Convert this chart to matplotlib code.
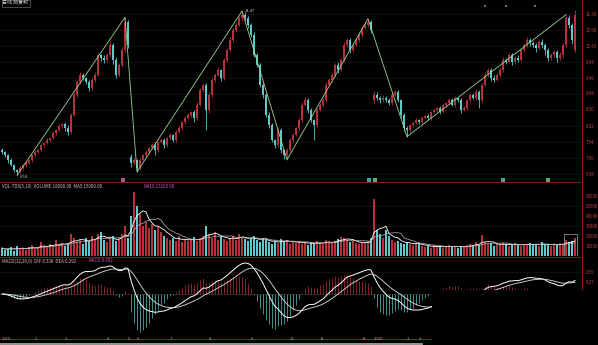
import numpy as np
import pandas as pd
import matplotlib
matplotlib.use('Agg')
import matplotlib.pyplot as plt
from matplotlib.lines import Line2D
from matplotlib.patches import Rectangle

plt.rcParams['font.family'] = ['Noto Sans CJK SC', 'DejaVu Sans']

# daily closes
closes = [7.24, 7.15, 7.00, 6.85, 6.70, 6.64, 6.76, 6.85, 6.91, 7.00,
          7.15, 7.24, 7.30, 7.45, 7.51, 7.60, 7.66, 7.81, 7.90, 8.02,
          8.08, 7.96, 7.84, 8.35, 8.95, 9.34, 9.55, 9.46, 9.34, 9.16,
          9.40, 9.55, 10.15, 10.06, 10.00, 10.15, 10.45, 10.00, 9.55, 9.85,
          10.30, 11.14, 10.45, 6.90, 7.00, 6.76, 7.00, 7.15, 7.24, 7.36,
          7.45, 7.30, 7.54, 7.60, 7.45, 7.66, 7.75, 7.60, 7.84, 7.96,
          8.14, 8.26, 8.35, 8.44, 8.26, 8.65, 9.10, 9.25, 8.50, 8.95,
          9.40, 9.55, 9.70, 9.46, 10.00, 10.30, 10.60, 10.90, 11.05, 11.26,
          11.35, 11.26, 11.05, 10.75, 10.15, 9.85, 9.25, 8.95, 8.35, 8.05,
          7.60, 7.45, 7.90, 7.30, 7.15, 7.30, 7.60, 7.75, 7.96, 8.20,
          8.65, 8.80, 8.50, 8.20, 8.05, 8.50, 8.65, 8.80, 9.25, 9.40,
          9.55, 9.85, 9.70, 10.00, 10.45, 10.60, 10.30, 10.45, 10.60, 10.75,
          10.96, 11.05, 11.14, 10.90, 8.95, 8.86, 8.80, 8.86, 8.80, 8.71,
          8.95, 9.04, 8.80, 8.35, 7.96, 7.90, 8.05, 8.11, 8.20, 8.14,
          8.26, 8.32, 8.26, 8.44, 8.50, 8.56, 8.44, 8.65, 8.71, 8.80,
          8.65, 8.86, 8.80, 8.50, 8.56, 8.80, 8.95, 8.86, 9.04, 8.80,
          9.25, 9.55, 9.70, 9.46, 9.40, 9.55, 9.70, 10.00, 9.94, 10.15,
          9.94, 10.06, 10.00, 10.30, 10.45, 10.60, 10.51, 10.45, 10.36, 10.54,
          10.45, 10.30, 10.06, 10.15, 10.24, 10.06, 10.15, 10.45, 11.26, 11.05,
          10.60, 11.35]
# opens differ from previous close only on gap days
gap_opens = {0: 7.30, 43: 7.10, 124: 8.80, 191: 10.30}
# upper / lower shadows in cents
hi_shadow = [5, 4, 3, 6, 2, 4, 5, 3, 6, 4,
             3, 5, 4, 6, 3, 5, 4, 7, 3, 5,
             4, 6, 8, 5, 10, 6, 8, 5, 4, 6,
             5, 8, 6, 4, 10, 7, 12, 5, 8, 6,
             9, 14, 6, 8, 5, 4, 6, 3, 5, 4,
             6, 8, 4, 5, 7, 3, 6, 4, 5, 6,
             4, 7, 5, 3, 6, 8, 5, 7, 6, 8,
             5, 6, 9, 4, 7, 5, 8, 6, 10, 7,
             12, 8, 6, 5, 9, 7, 6, 10, 5, 8,
             6, 4, 9, 5, 4, 6, 5, 7, 4, 6,
             8, 10, 6, 5, 4, 7, 6, 5, 8, 6,
             5, 7, 9, 6, 8, 5, 7, 6, 5, 8,
             6, 9, 10, 7, 12, 8, 6, 10, 5, 7,
             8, 6, 5, 4, 6, 5, 4, 6, 5, 4,
             5, 4, 6, 3, 5, 4, 6, 5, 4, 7,
             5, 6, 4, 7, 5, 4, 6, 5, 8, 6,
             7, 10, 6, 5, 8, 5, 6, 9, 5, 7,
             6, 5, 8, 6, 5, 9, 6, 7, 5, 6,
             8, 5, 6, 7, 5, 6, 8, 5, 10, 9,
             6, 15]
lo_shadow = [6, 5, 8, 4, 6, 10, 4, 5, 6, 3,
             5, 4, 6, 3, 5, 4, 6, 3, 5, 4,
             6, 8, 10, 5, 4, 6, 5, 7, 6, 9,
             5, 6, 4, 8, 10, 6, 5, 12, 9, 6,
             5, 6, 8, 10, 6, 12, 5, 4, 6, 5,
             4, 15, 5, 4, 8, 5, 4, 7, 5, 4,
             6, 5, 4, 6, 12, 5, 4, 6, 60, 8,
             5, 6, 4, 10, 5, 6, 4, 5, 6, 4,
             6, 5, 8, 6, 7, 5, 6, 8, 5, 9,
             7, 10, 6, 8, 12, 14, 6, 5, 4, 6,
             5, 4, 8, 6, 45, 5, 4, 6, 5, 4,
             6, 5, 8, 4, 5, 6, 10, 5, 4, 6,
             5, 4, 6, 8, 10, 6, 8, 5, 7, 6,
             5, 4, 6, 8, 10, 20, 6, 5, 4, 6,
             5, 4, 6, 5, 4, 6, 5, 4, 6, 5,
             4, 6, 5, 8, 4, 6, 5, 4, 6, 25,
             5, 4, 6, 8, 5, 4, 6, 5, 7, 4,
             10, 5, 6, 4, 5, 6, 8, 5, 12, 6,
             8, 15, 10, 6, 5, 12, 6, 8, 5, 10,
             12, 6]
# volume, thousand lots
volume = [8, 6, 7, 9, 5, 10, 7, 8, 6, 9,
          11, 7, 8, 14, 10, 8, 12, 9, 16, 11,
          13, 10, 12, 22, 18, 14, 16, 12, 18, 15,
          20, 17, 22, 24, 16, 14, 18, 20, 15, 17,
          22, 30, 18, 40, 64, 50, 42, 30, 34, 28,
          32, 26, 30, 24, 20, 18, 16, 18, 15, 20,
          14, 17, 15, 16, 19, 15, 18, 20, 30, 22,
          18, 24, 16, 20, 17, 15, 18, 20, 16, 22,
          19, 17, 15, 18, 20, 16, 14, 18, 16, 14,
          12, 15, 13, 17, 15, 16, 12, 14, 13, 15,
          12, 14, 11, 13, 12, 15, 13, 12, 16, 14,
          13, 15, 17, 19, 18, 16, 14, 15, 13, 12,
          14, 13, 15, 18, 57, 26, 22, 18, 26, 20,
          16, 14, 15, 13, 12, 14, 12, 11, 13, 12,
          10, 9, 10, 8, 11, 9, 10, 8, 9, 11,
          10, 9, 8, 10, 9, 11, 12, 10, 14, 11,
          21, 14, 12, 13, 10, 12, 11, 13, 12, 10,
          11, 13, 12, 10, 11, 12, 13, 11, 12, 10,
          14, 12, 11, 10, 12, 11, 13, 12, 16, 14,
          15, 18]

price_ticks = [11.38, 10.90, 10.42, 9.94, 9.46, 8.98, 8.50, 8.02, 7.54, 7.06, 6.58]
vol_ticks = [10, 20, 30, 40, 50, 60]
date_pos = [0, 11, 21, 35, 42, 45, 56, 69, 83, 96, 106, 120, 124, 135, 139]
date_labels = ['2019', '2', '3', '4', '5', '6', '7', '8', '9', '10', '11', '12', '2020', '2', '3']
zz_pivots = [5, 41, 45, 80, 95, 122, 135, 188]

RED = '#b8303a'
CYAN = '#5ccaca'
AXRED = '#8a1c1c'
GRID = '#3a2a2a'

close = np.array(closes)
n = len(close)
x = np.arange(n)
opens = np.r_[close[0], close[:-1]]
for k, v in gap_opens.items():
    opens[k] = v
high = np.maximum(opens, close) + np.array(hi_shadow) / 100
low = np.minimum(opens, close) - np.array(lo_shadow) / 100
up = close >= opens
cols = np.where(up, RED, CYAN)

W, H = 598, 345
fig = plt.figure(figsize=(W / 100, H / 100), dpi=100, facecolor='black')


def px_axes(x0, y0, x1, y1):
    ax = fig.add_axes([x0 / W, 1 - y1 / H, (x1 - x0) / W, (y1 - y0) / H])
    ax.set_axis_off()
    ax.set_xlim(-2 / 3, 580 / 3)
    return ax


def fig_line(xs, ys, color, lw=0.6, **kw):
    fig.add_artist(Line2D([v / W for v in xs], [1 - v / H for v in ys],
                          color=color, lw=lw, **kw))


ax_p = px_axes(0, 0, 582, 181)
ax_v = px_axes(0, 190, 582, 256)
ax_m = px_axes(0, 258, 582, 336)

# ---- price panel
ax_p.set_ylim(6.37, 11.8)
for t in price_ticks:
    ax_p.axhline(t, color=GRID, lw=0.5, ls=(0, (2, 2)), zorder=0)
    ax_p.text(1.006, t, f'{t:.2f}', transform=ax_p.get_yaxis_transform(),
              color='#c04040', fontsize=3.2, va='center', ha='left')
ax_p.vlines(x, low, high, colors=cols, lw=0.6, zorder=2)
body = np.maximum(np.abs(close - opens), 0.02)
ax_p.bar(x, body, bottom=np.minimum(opens, close), width=0.6, color=cols, lw=0, zorder=3)

zz_y = [low[i] if k % 2 == 0 else high[i] for k, i in enumerate(zz_pivots)]
ax_p.plot(zz_pivots, zz_y, color='#9cd494', lw=0.6, zorder=4)
ax_p.text(zz_pivots[0] + 1, zz_y[0], f'{zz_y[0]:.2f}', color='#d0d0d0',
          fontsize=3, va='top', ha='left')
ax_p.text(zz_pivots[3] + 1, zz_y[3], f'{zz_y[3]:.2f}', color='#d0d0d0',
          fontsize=3, va='center', ha='left')
ax_p.text(0.004, 0.995, '日线 前复权 ', transform=ax_p.transAxes, color='#d8d8d8',
          fontsize=3.6, va='top', ha='left',
          bbox=dict(boxstyle='square,pad=0.15', fc='black', ec='#808080', lw=0.4))

# event markers under price panel
for px, c in [(123, '#e070a0'), (369, '#60c8c8'), (375, '#80d080'),
              (503, '#60c8c8'), (548, '#80d080')]:
    fig.add_artist(Rectangle(((px - 2) / W, 1 - 182 / H), 4 / W, 4 / H,
                             fc=c, ec='none', alpha=0.8))
for px in [485, 506, 535]:
    fig.add_artist(Rectangle(((px - 1) / W, 1 - 7 / H), 2 / W, 2 / H, fc='#707070', ec='none'))

# ---- volume panel
vol = np.array(volume)
ax_v.set_ylim(0, 66)
ax_v.bar(x, vol, width=0.6, color=cols, lw=0)
vs = pd.Series(vol, dtype=float)
ax_v.plot(x, vs.rolling(5, min_periods=1).mean(), color='white', lw=0.6)
ax_v.plot(x, vs.rolling(10, min_periods=1).mean(), color='#b8b8b8', lw=0.5)
for t in vol_ticks:
    ax_v.text(1.006, t, f'{t * 1000}', transform=ax_v.get_yaxis_transform(),
              color='#c04040', fontsize=3.2, va='center', ha='left')
for t in [30, 50]:
    ax_v.axhline(t, color=GRID, lw=0.5, ls=(0, (2, 2)), zorder=0)
ax_v.add_patch(Rectangle((187.4, 0), 4.2, 22, fc='none', ec='#a0b0a0', lw=0.5))
fig.text(2 / W, 1 - 186 / H,
         f'VOL-TDX(5,10)  VOLUME:{vol[-1] * 1000:.2f}  MA5:{vs[-5:].mean() * 1000:.2f}',
         color='#c8c8c8', fontsize=3.2, va='center', ha='left')
fig.text(143 / W, 1 - 186 / H, f'MA10:{vs[-10:].mean() * 1000:.2f}',
         color='#c060d0', fontsize=3.2, va='center', ha='left')

# ---- MACD panel
s = pd.Series(close)
dif = s.ewm(span=12, adjust=False).mean() - s.ewm(span=26, adjust=False).mean()
dea = dif.ewm(span=9, adjust=False).mean()
hist = 2 * (dif - dea)
R = abs(min(hist.min(), dif.min())) * 78 / 38
ax_m.set_ylim(-R * 42 / 78, R * 36 / 78)
ax_m.vlines(x, 0, hist, colors=np.where(hist >= 0, RED, CYAN), lw=0.5)
ax_m.axhline(0, color='#909090', lw=0.5, ls=(0, (1, 2)))
ax_m.axhline(R * 22 / 78, color=GRID, lw=0.5, ls=(0, (2, 2)))
ax_m.plot(x, dif, color='white', lw=0.7)
ax_m.plot(x, dea, color='#e0e0e0', lw=0.6)
for v in [R * 22 / 78, R * 11 / 78]:
    ax_m.text(1.006, v, f'{v:.2f}', transform=ax_m.get_yaxis_transform(),
              color='#c04040', fontsize=3.2, va='center', ha='left')
fig.text(2 / W, 1 - 261 / H,
         f'MACD(12,26,9)  DIF:{dif.iloc[-1]:.3f}  DEA:{dea.iloc[-1]:.3f}',
         color='#c8c8c8', fontsize=3.2, va='center', ha='left')
fig.text(88 / W, 1 - 261 / H, f'MACD:{hist.iloc[-1]:.3f}',
         color='#c060d0', fontsize=3.2, va='center', ha='left')

# ---- frame lines
fig_line([0, 582], [182, 182], AXRED)
fig_line([0, 582], [257, 257], AXRED)
fig_line([582, 582], [0, 290], AXRED, lw=0.8)
fig_line([0, 432], [339, 339], AXRED, lw=0.8)
fig_line([0, 422], [344, 344], '#b0b0b0', lw=1.2)
for p, lab in zip(date_pos, date_labels):
    fig.text((2 + 3 * p) / W, 1 - 339 / H, lab, color='#a8a8a8', fontsize=3,
             va='center', ha='left')

# overlay window covering the lower right corner
fig.add_artist(Rectangle((432 / W, 0), 166 / W, 55 / H, fc='black', ec='none', zorder=10))

fig.savefig('out.png', dpi=100, facecolor='black')
